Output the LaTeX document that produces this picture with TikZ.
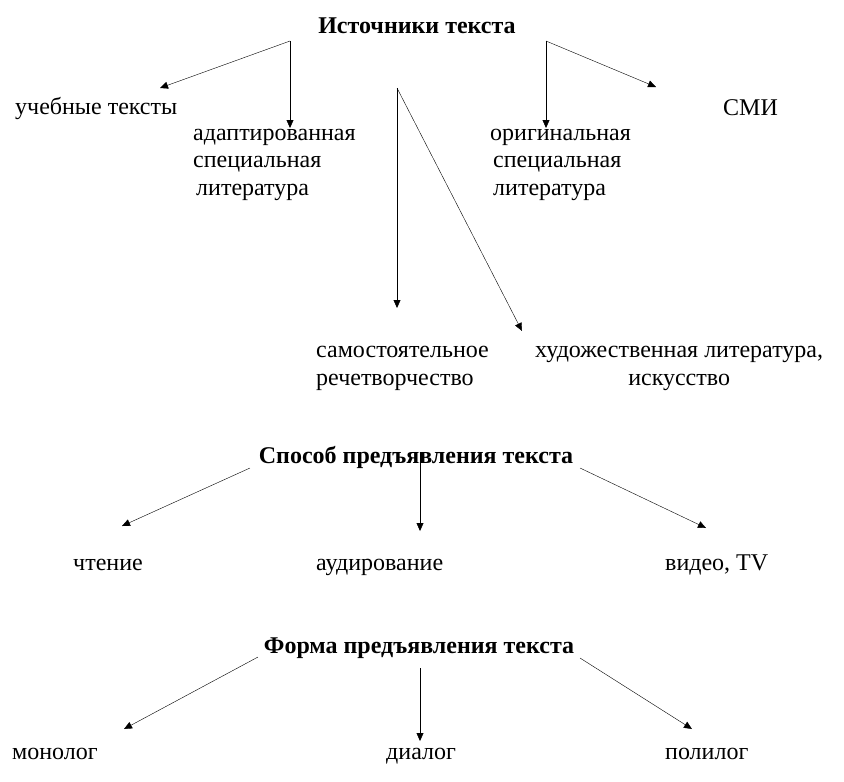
\documentclass[tikz,border=0pt]{standalone}
\usepackage{fontspec}
\setmainfont{Liberation Serif}
\usetikzlibrary{
  arrows.meta,
}
\tikzset{
  line width=1.2pt,
  >={Triangle[length=8pt,width=7pt]},
  my label/.style={
    inner sep=0pt,
    anchor=base west,
    align=left,
    font=\fontsize{24}{27.5}\selectfont
  },
  my head/.style={
    my label,
    anchor=base,
    font=\fontsize{24}{27.5}\selectfont\bfseries
  },
}
\begin{document}
\begin{tikzpicture}[x=1pt,y=-1pt]
\useasboundingbox (0,0) rectangle (844,782);
% Sources (multi-line nodes sit on their last baseline)
\node[my head] (src) at (417,33) {Источники текста};
\node[my label] (ucheb) at (15,114) {учебные тексты};
\node[my label] (adapt) at (193,195) {адаптированная\\специальная\\\hspace{3pt}литература};
\node[my label] (orig) at (490,195) {оригинальная\\\hspace{3pt}специальная\\\hspace{3pt}литература};
\node[my label] (smi) at (723,115) {СМИ};
\node[my label] (samost) at (316,385) {самостоятельное\\речетворчество};
\node[my label,align=center] (hud) at (535,385) {художественная литература,\\искусство};
\coordinate (src l) at (290,41);
\coordinate (src r) at (546,41);
\coordinate (src m) at (397,88);
\coordinate (to ucheb) at (160,88);
\coordinate (to adapt) at (290,128);
\coordinate (to orig) at (546,128);
\coordinate (to smi) at (656,87);
\coordinate (to samost) at (397,308);
\coordinate (to hud) at (522,331);
\draw[->] (src l) -- (to ucheb);
\draw[->] (src l) -- (to adapt);
\draw[->] (src r) -- (to orig);
\draw[->] (src r) -- (to smi);
\draw[->] (src m) -- (to samost);
\draw[->] (src m) -- (to hud);
% Way of presenting
\node[my head] (way) at (416,463) {Способ предъявления текста};
\node[my label] (read) at (73,570) {чтение};
\node[my label] (listen) at (316,570) {аудирование};
\node[my label] (video) at (665,570) {видео, TV};
\coordinate (way l) at (250,468);
\coordinate (way m) at (420,452);
\coordinate (way r) at (580,468);
\coordinate (to read) at (122,526);
\coordinate (to listen) at (420,531);
\coordinate (to video) at (706,528);
\draw[->] (way l) -- (to read);
\draw[->] (way m) -- (to listen);
\draw[->] (way r) -- (to video);
% Form of presenting
\node[my head] (form) at (419,653) {Форма предъявления текста};
\node[my label] (mono) at (12,759) {монолог};
\node[my label] (dia) at (386,759) {диалог};
\node[my label] (poly) at (665,759) {полилог};
\coordinate (form l) at (258,657);
\coordinate (form m) at (420,668);
\coordinate (form r) at (580,658);
\coordinate (to mono) at (124,729);
\coordinate (to dia) at (420,741);
\coordinate (to poly) at (692,729);
\draw[->] (form l) -- (to mono);
\draw[->] (form m) -- (to dia);
\draw[->] (form r) -- (to poly);
\end{tikzpicture}
\end{document}
